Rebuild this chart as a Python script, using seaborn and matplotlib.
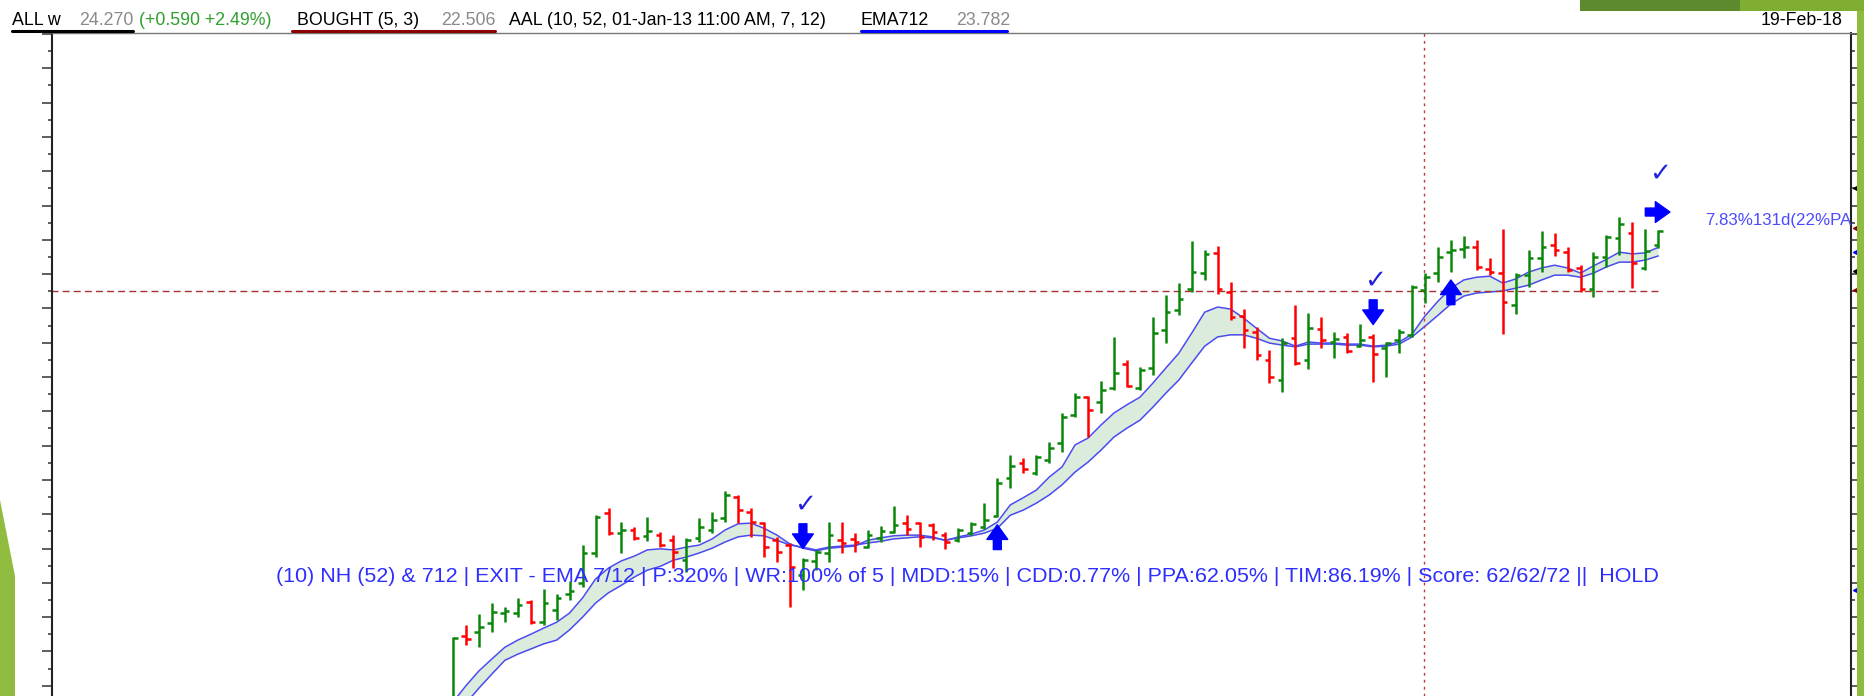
import matplotlib
matplotlib.use("Agg")
import matplotlib.pyplot as plt
import matplotlib.transforms as mtransforms
from matplotlib.lines import Line2D
from matplotlib.patches import Polygon
from matplotlib.ticker import MultipleLocator
import numpy as np
import seaborn as sns

W, H = 1864, 696

# weekly bars, oldest first
opens = [
    10.29, 12.44, 12.57, 12.82, 13.12, 13.12, 13.44, 12.85, 13.20, 13.67,
    13.99, 14.87, 16.03, 15.45, 15.54, 15.37, 15.39, 15.24, 14.66, 15.31,
    15.54, 15.89, 16.50, 16.07, 15.74, 15.24, 15.10, 14.23, 14.64, 14.87,
    15.24, 15.28, 15.04, 15.31, 15.48, 15.74, 15.74, 15.69, 15.39, 15.24,
    15.45, 15.62, 15.94, 17.05, 17.49, 17.20, 17.58, 18.08, 18.89, 19.41,
    19.27, 19.68, 20.38, 19.68, 20.26, 21.37, 21.96, 22.56, 23.03, 23.62,
    22.48, 21.78, 21.31, 20.50, 19.91, 21.13, 20.50, 21.40, 21.02, 21.17,
    20.90, 21.17, 20.85, 21.07, 21.23, 22.53, 23.03, 23.64, 23.73, 23.79,
    23.15, 23.03, 22.10, 22.97, 23.46, 23.84, 23.64, 23.18, 22.56, 23.50,
    24.05, 24.19, 23.18, 23.84,
]
highs = [
    12.42, 12.77, 13.09, 13.41, 13.29, 13.56, 13.50, 13.82, 13.67, 14.05,
    15.10, 15.97, 16.18, 15.77, 15.62, 15.92, 15.48, 15.39, 15.31, 15.89,
    16.07, 16.67, 16.56, 16.18, 15.77, 15.34, 15.16, 14.72, 14.96, 15.77,
    15.77, 15.45, 15.54, 15.66, 16.24, 15.97, 15.77, 15.74, 15.48, 15.59,
    15.77, 16.32, 17.05, 17.73, 17.64, 17.73, 18.11, 18.95, 19.53, 19.44,
    19.88, 21.17, 20.50, 20.29, 21.75, 22.39, 22.74, 23.97, 23.70, 23.82,
    22.77, 21.98, 21.45, 20.79, 21.13, 22.10, 21.86, 21.75, 21.31, 21.28,
    21.55, 21.25, 21.02, 21.40, 22.68, 23.03, 23.79, 24.00, 24.11, 24.00,
    23.46, 24.32, 23.03, 23.70, 24.25, 24.19, 23.79, 23.26, 23.64, 24.14,
    24.66, 24.52, 24.32, 24.30,
]
lows = [
    10.00, 12.19, 12.12, 12.57, 12.85, 13.00, 12.80, 12.77, 12.92, 13.50,
    13.88, 14.75, 15.39, 14.87, 15.24, 15.21, 15.04, 14.43, 14.31, 15.19,
    15.45, 15.77, 15.74, 15.34, 14.75, 14.61, 13.29, 13.79, 14.37, 14.61,
    14.87, 14.90, 15.01, 15.19, 15.45, 15.39, 15.04, 15.24, 14.99, 15.19,
    15.39, 15.56, 15.92, 16.76, 17.20, 17.14, 17.49, 17.81, 18.84, 18.25,
    18.95, 19.62, 19.71, 19.62, 20.06, 20.99, 21.80, 22.48, 22.83, 22.42,
    21.66, 20.85, 20.50, 19.82, 19.56, 20.34, 20.23, 20.85, 20.55, 20.69,
    20.88, 19.85, 20.00, 20.69, 21.17, 22.16, 22.77, 23.06, 23.46, 23.12,
    22.97, 21.25, 21.83, 22.62, 23.06, 23.53, 23.06, 22.48, 22.33, 23.21,
    23.56, 22.59, 23.12, 23.76,
]
closes = [
    12.39, 12.36, 12.71, 13.15, 13.18, 13.36, 12.85, 13.41, 13.56, 13.76,
    14.87, 15.92, 15.45, 15.54, 15.31, 15.51, 15.10, 14.90, 15.24, 15.62,
    15.83, 16.56, 16.12, 15.77, 15.04, 14.90, 14.46, 14.66, 14.90, 15.39,
    15.16, 15.19, 15.39, 15.51, 15.69, 15.56, 15.34, 15.48, 15.19, 15.54,
    15.72, 15.83, 16.91, 17.41, 17.32, 17.67, 17.93, 18.84, 19.41, 19.04,
    19.62, 20.12, 19.74, 20.20, 21.28, 21.89, 22.27, 23.06, 23.59, 22.56,
    21.75, 21.37, 20.64, 20.00, 20.99, 20.41, 21.42, 21.07, 21.10, 20.76,
    21.07, 20.67, 20.99, 21.31, 22.62, 22.91, 23.50, 23.70, 23.79, 23.21,
    23.06, 22.18, 22.97, 23.46, 23.79, 23.70, 23.12, 22.56, 23.50, 24.08,
    24.46, 23.32, 23.68, 24.27,
]
ema_fast = [
    10.52, 11.00, 11.43, 11.78, 12.12, 12.33, 12.50, 12.68, 12.85, 13.12,
    13.56, 14.11, 14.43, 14.64, 14.78, 14.96, 14.99, 14.96, 15.04, 15.10,
    15.28, 15.54, 15.72, 15.74, 15.59, 15.39, 15.13, 15.01, 14.93, 15.01,
    15.04, 15.07, 15.24, 15.31, 15.37, 15.39, 15.39, 15.34, 15.23, 15.34,
    15.42, 15.54, 15.77, 16.27, 16.48, 16.70, 17.08, 17.38, 18.02, 18.22,
    18.60, 18.95, 19.19, 19.41, 19.82, 20.26, 20.69, 21.28, 21.89, 22.04,
    21.98, 21.72, 21.42, 21.13, 21.05, 20.90, 21.02, 20.99, 20.99, 20.96,
    20.96, 20.90, 20.93, 21.02, 21.25, 21.78, 22.21, 22.59, 22.83, 22.91,
    22.94, 22.74, 22.86, 23.06, 23.18, 23.26, 23.18, 23.03, 23.24, 23.43,
    23.64, 23.59, 23.62, 23.78,
]
ema_slow = [
    10.24, 10.49, 10.93, 11.34, 11.74, 11.92, 12.07, 12.22, 12.33, 12.63,
    13.00, 13.41, 13.71, 13.93, 14.17, 14.37, 14.48, 14.66, 14.75, 14.87,
    15.01, 15.19, 15.34, 15.39, 15.37, 15.24, 15.10, 15.04, 14.96, 15.04,
    15.07, 15.10, 15.16, 15.21, 15.28, 15.31, 15.34, 15.31, 15.25, 15.31,
    15.37, 15.45, 15.59, 15.97, 16.12, 16.32, 16.56, 16.86, 17.23, 17.52,
    17.87, 18.25, 18.51, 18.74, 19.12, 19.53, 19.91, 20.41, 20.90, 21.17,
    21.23, 21.23, 21.13, 20.99, 20.93, 20.88, 20.96, 20.96, 20.96, 20.93,
    20.93, 20.88, 20.90, 20.96, 21.17, 21.48, 21.80, 22.13, 22.36, 22.45,
    22.48, 22.51, 22.59, 22.68, 22.83, 22.97, 22.97, 22.91, 23.03, 23.21,
    23.35, 23.35, 23.41, 23.53,
]

bought_price = 22.506
sell_bars = [27, 71]      # bar index of the exit signals
buy_bars = [42, 77]       # bar index of the entry signals
cursor_bar = 75
target_text = "7.83%131d(22%PA)"
stats_text = ("(10) NH (52) & 712 | EXIT - EMA 7/12 | P:320% | WR:100% of 5 | "
              "MDD:15% | CDD:0.77% | PPA:62.05% | TIM:86.19% | Score: 62/62/72 ||  HOLD")

# header pieces: text, left edge in px, colour
header = [
    ("ALL w", 12, "black"),
    ("24.270", 79, "#8a8a8a"),
    ("(+0.590 +2.49%)", 139, "#2f9f2f"),
    ("BOUGHT (5, 3)", 297, "black"),
    ("22.506", 441, "#8a8a8a"),
    ("AAL (10, 52, 01-Jan-13 11:00 AM, 7, 12)", 509, "black"),
    ("EMA712", 861, "black"),
    ("23.782", 956, "#8a8a8a"),
]
underlines = [(12, 133, "black"), (292, 495, "#8b0000"), (861, 1007, "#0000ff")]
axis_marks = [(25.51, "black"), (24.34, "#8b0000"), (23.64, "#0000ff"),
              (23.09, "black"), (22.54, "#8b0000"), (13.79, "#0000ff")]

GREEN_UP = "#0a870a"
RED_DN = "#ff0000"
BLUE = "#0000ff"


def px(x, y):
    return (x / W, 1 - y / H)


def main():
    sns.set_style("white")
    plt.rcParams["font.family"] = ["Liberation Sans", "DejaVu Sans"]

    fig = plt.figure(figsize=(W / 100, H / 100), dpi=100)
    fig.patch.set_facecolor("white")
    ax = fig.add_axes([52 / W, 0, (1851 - 52) / W, (H - 33) / H])

    o = np.array(opens)
    h = np.array(highs)
    l = np.array(lows)
    c = np.array(closes)
    idx = np.arange(len(c))
    cols = np.where(c >= o, GREEN_UP, RED_DN)

    # EMA 7/12 ribbon
    ax.fill_between(idx, ema_fast, ema_slow, color="#dcecdc", lw=0, zorder=1)
    sns.lineplot(x=idx, y=ema_fast, ax=ax, color="#4b4bf0", lw=1.1, zorder=2)
    sns.lineplot(x=idx, y=ema_slow, ax=ax, color="#4b4bf0", lw=1.1, zorder=2)

    # bought level + cursor
    ax.hlines(bought_price, -31, idx[-1], colors="#a83232", lw=1,
              linestyles=(0, (5, 3)), zorder=2.5)
    ax.axvline(cursor_bar - 0.08, color="#c03838", lw=1,
               linestyle=(0, (2, 3)), zorder=2.5)

    # OHLC bars
    tick = 0.36
    ax.vlines(idx, l, h, colors=cols, lw=1.8, zorder=3)
    ax.hlines(o, idx - tick, idx, colors=cols, lw=1.8, zorder=3)
    ax.hlines(c, idx, idx + tick, colors=cols, lw=1.8, zorder=3)

    arrow = dict(arrowstyle="simple,head_length=0.7,head_width=1.0,tail_width=0.38",
                 color=BLUE, mutation_scale=15, shrinkA=0, shrinkB=0)
    for b in sell_bars:
        tip = h[b] + 0.28
        ax.annotate("", xy=(b, tip), xytext=(b, tip + 0.72), arrowprops=arrow, zorder=5)
        ax.text(b + 0.15, tip + 1.28, "\u2713", ha="center", va="center",
                fontsize=19, color="#2020e0", family="DejaVu Sans", zorder=6)
    for b in buy_bars:
        tip = l[b] - 0.23
        ax.annotate("", xy=(b, tip), xytext=(b, tip - 0.72), arrowprops=arrow, zorder=5)

    last = idx[-1]
    ya = h[-1] + 0.51
    ax.annotate("", xy=(last + 0.9, ya), xytext=(last - 1.0, ya), arrowprops=arrow, zorder=5)
    ax.text(last + 0.15, h[-1] + 1.62, "\u2713", ha="center", va="center",
            fontsize=19, color="#2020e0", family="DejaVu Sans", zorder=6)

    ax.text(96.6, 24.55, target_text, color="#4b4bff", fontsize=12.2,
            va="center", ha="left", clip_on=True, zorder=6)

    stats = fig.text(276 / W, 1 - 577 / H, stats_text, color="#2e2eff",
                     fontsize=13, va="center", ha="left", zorder=10)

    ax.set_xlim(-30.94, 107.87)
    ax.set_ylim(10.70, 30.03)
    ax.set_xticks([])
    ax.yaxis.set_major_locator(MultipleLocator(1))
    ax.yaxis.set_minor_locator(MultipleLocator(0.5))
    ax.tick_params(axis="y", which="major", length=7.2, width=1.1, color="#333333",
                   direction="out", left=True, right=True, labelleft=False, labelright=False)
    ax.tick_params(axis="y", which="minor", length=2.9, width=1.1, color="#333333",
                   direction="out", left=True, right=True)
    for side in ("left", "right"):
        ax.spines[side].set_color("#222222")
        ax.spines[side].set_linewidth(1.5)
    ax.spines["top"].set_color("#777777")
    ax.spines["top"].set_linewidth(1.0)
    ax.spines["bottom"].set_visible(False)
    ax.set_facecolor("white")

    # label pointers sitting on the right axis
    trans = mtransforms.blended_transform_factory(ax.transAxes, ax.transData)
    for yv, col in axis_marks:
        ax.plot([1.003], [yv], marker="<", ms=5, color=col, transform=trans,
                clip_on=False, zorder=7)

    # header line
    for txt, x, col in header:
        fig.text(x / W, 1 - 25 / H, txt, color=col, fontsize=12.8, va="baseline", ha="left")
    fig.text(1843 / W, 1 - 25 / H, "19-Feb-18", color="black", fontsize=12.8,
             va="baseline", ha="right")
    for x0, x1, col in underlines:
        fig.add_artist(Line2D([x0 / W, x1 / W], [1 - 31 / H] * 2, color=col, lw=2.2,
                              transform=fig.transFigure))

    # slide background bits around the screenshot
    shapes = [
        ([(0, 500), (15, 576), (15, 696), (0, 696)], "#8fbc3f"),
        ([(1857, 0), (1864, 0), (1864, 696), (1857, 696)], "#8fbc3f"),
        ([(1580, 0), (1740, 0), (1740, 11), (1580, 11)], "#5d8a2c"),
        ([(1740, 0), (1864, 0), (1864, 11), (1740, 11)], "#7fae32"),
    ]
    for pts, col in shapes:
        fig.add_artist(Polygon([px(x, y) for x, y in pts], closed=True, color=col,
                               lw=0, transform=fig.transFigure))

    # stretch the stats line to the width it has in the source
    fig.canvas.draw()
    bb = stats.get_window_extent(fig.canvas.get_renderer())
    stats.set_fontsize(stats.get_fontsize() * 1377 / bb.width)

    fig.savefig("out.png", dpi=100)
    plt.close(fig)


if __name__ == "__main__":
    main()
